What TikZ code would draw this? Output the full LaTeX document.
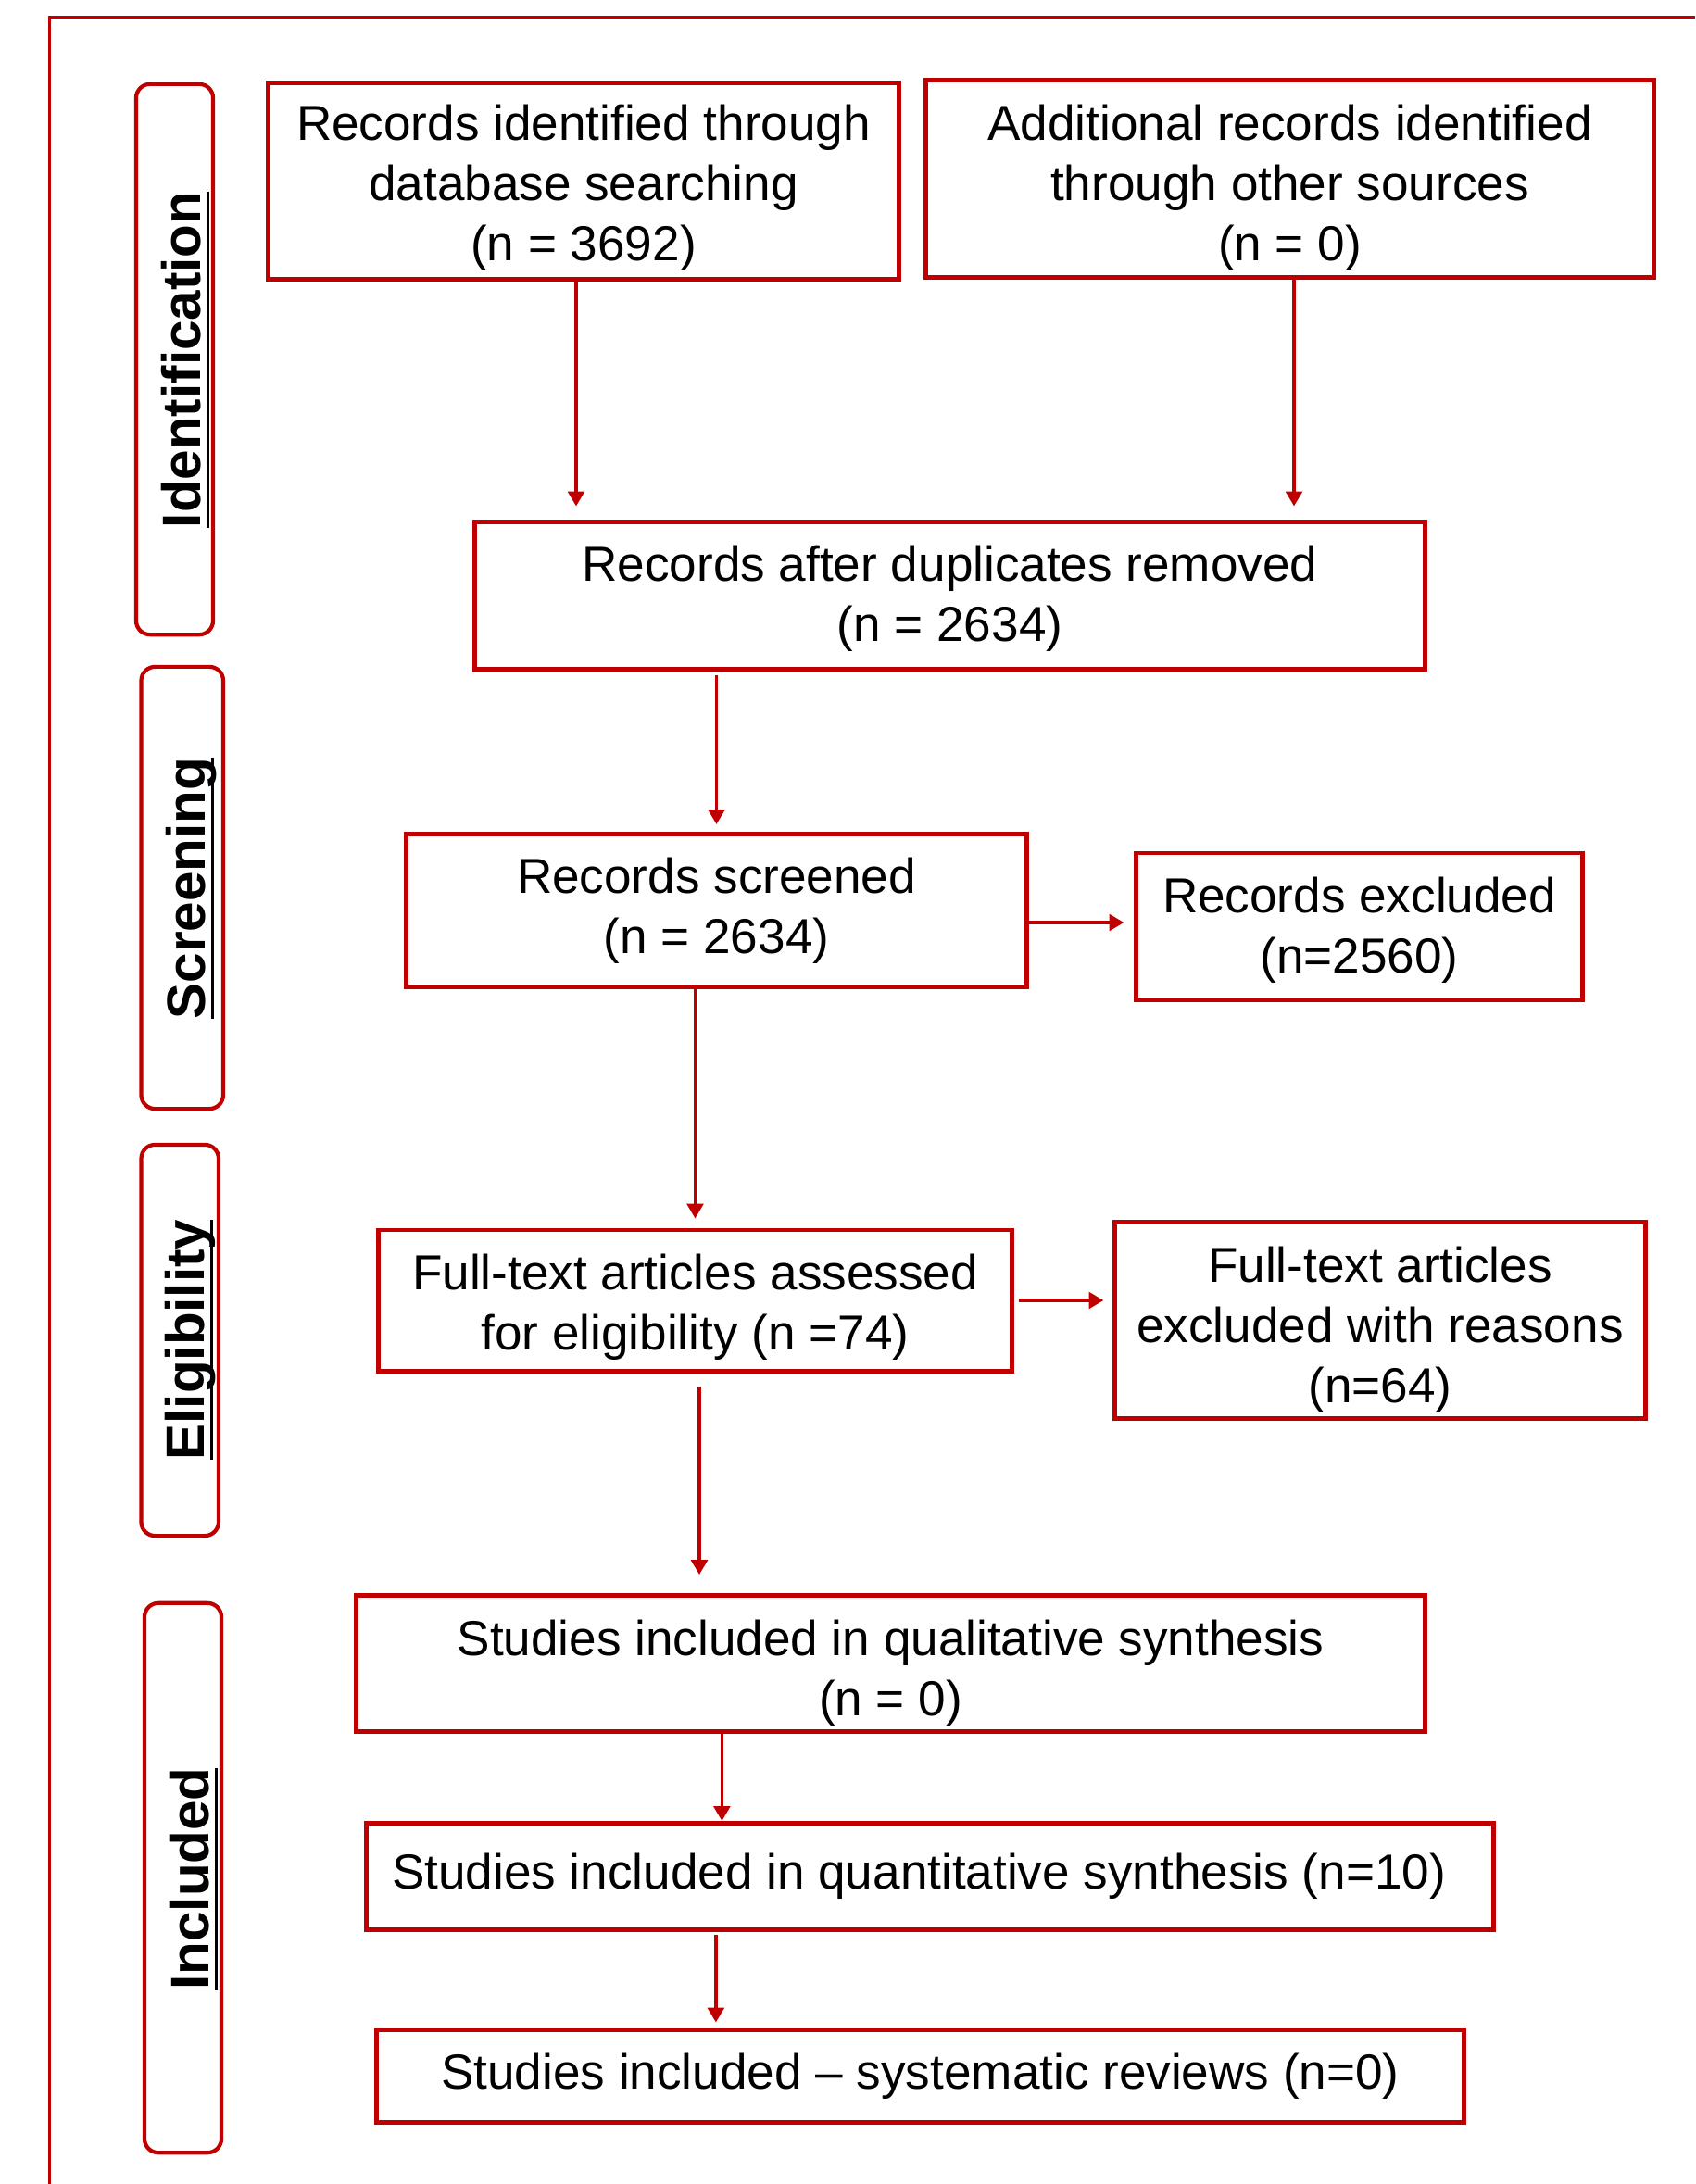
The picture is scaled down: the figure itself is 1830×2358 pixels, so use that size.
\documentclass[tikz,border=0pt]{standalone}
\usepackage{fontspec}
\setmainfont{Liberation Sans}
\usetikzlibrary{arrows.meta}
\definecolor{prismared}{HTML}{C00000}
% underline at a fixed depth, so descenders cross it
\newcommand{\phaseul}[1]{\setbox0\hbox{#1}\rlap{\vrule height -1.85pt depth 2.95pt width \wd0}\box0}
% taller first line pushes the text block down a little
\newcommand{\topstrut}[1]{\rule{0pt}{#1}}

\begin{document}
\begin{tikzpicture}[
        x=0.01cm, y=-0.01cm,
        box/.style={draw=prismared, line width=1.4pt, align=center, inner sep=0pt,
            font=\fontsize{15.1}{18.5}\selectfont},
        phase/.style={draw=prismared, line width=1.2pt, rounded corners=0.15cm},
        phaselabel/.style={rotate=90, anchor=base, inner sep=0pt,
            font=\fontsize{16.6}{19}\selectfont\bfseries},
        arrow/.style={-{Triangle[length=4.5pt,width=5pt]}, draw=prismared, line width=1pt}
    ]
        \useasboundingbox (0,0) rectangle (1830,2358);
        \draw[prismared, line width=0.7pt] (53.5,2358) |- (1830,18.5);

        % Phases
        \node[phase, minimum width=0.83cm, minimum height=5.94cm] (idbox) at (188.5,388) {};
        \node[phase, minimum width=0.885cm, minimum height=4.77cm] (scrbox) at (196.75,958.5) {};
        \node[phase, minimum width=0.835cm, minimum height=4.22cm] (elbox) at (194.25,1447) {};
        \node[phase, minimum width=0.83cm, minimum height=5.93cm] (incbox) at (197.5,2027.5) {};

        \node[phaselabel] (idlabel) at (216,388.5) {\phaseul{Identification}};
        \node[phaselabel] (scrlabel) at (221,959) {\phaseul{Screening}};
        \node[phaselabel] (ellabel) at (220,1446.5) {\phaseul{Eligibility}};
        \node[phaselabel] (inclabel) at (225,2028.5) {\phaseul{Included}};

        % Identification
        \node[box, minimum width=6.8cm, minimum height=2.11cm] (recdb) at (630,195.5)
            {\topstrut{15.2pt}Records identified through\\database searching\\(n = 3692)};
        \node[box, minimum width=7.85cm, minimum height=2.12cm] (recother) at (1392.5,193)
            {\topstrut{16.6pt}Additional records identified\\through other sources\\(n = 0)};
        \node[box, minimum width=10.25cm, minimum height=1.58cm] (dedup) at (1025.5,643)
            {\topstrut{12.7pt}Records after duplicates removed\\(n = 2634)};

        % Screening
        \node[box, minimum width=6.69cm, minimum height=1.65cm] (screened) at (773.5,983)
            {Records screened\\(n = 2634)};
        \node[box, minimum width=4.81cm, minimum height=1.58cm] (excluded) at (1467.5,1000)
            {\topstrut{13.6pt}Records excluded\\(n=2560)};

        % Eligibility
        \node[box, minimum width=6.83cm, minimum height=1.52cm] (assessed) at (750.5,1404)
            {\topstrut{15.2pt}Full-text articles assessed\\for eligibility (n =74)};
        \node[box, minimum width=5.72cm, minimum height=2.11cm] (ftexcl) at (1490,1425.5)
            {\topstrut{17pt}Full-text articles\\excluded with reasons\\(n=64)};

        % Included
        \node[box, minimum width=11.53cm, minimum height=1.47cm] (qual) at (961.5,1796)
            {\topstrut{16.6pt}Studies included in qualitative synthesis\\(n = 0)};
        \node[box, minimum width=12.16cm, minimum height=1.15cm] (quant) at (1004,2026)
            {Studies included in quantitative synthesis (n=10)\hspace*{6.8pt}};
        \node[box, minimum width=11.73cm, minimum height=0.99cm] (sysrev) at (993.5,2241.5)
            {Studies included -- systematic reviews (n=0)};

        % Arrows
        \draw[arrow, shorten >=0.15cm] ([xshift=-0.08cm]recdb.south) -- ([xshift=-0.08cm]recdb.south |- dedup.north);
        \draw[arrow, shorten >=0.15cm] ([xshift=0.045cm]recother.south) -- ([xshift=0.045cm]recother.south |- dedup.north);
        \draw[arrow, shorten <=0.04cm, shorten >=0.08cm] (dedup.south -| screened.north) -- (screened.north);
        \draw[arrow, shorten >=0.11cm] ([yshift=-0.13cm]screened.east) -- ([yshift=-0.13cm]screened.east -| excluded.west);
        \draw[arrow, shorten >=0.1cm] (screened.south -| assessed.north) -- (assessed.north);
        \draw[arrow, shorten <=0.05cm, shorten >=0.1cm] (assessed.east) -- (assessed.east -| ftexcl.west);
        \draw[arrow, shorten <=0.14cm, shorten >=0.2cm] ([xshift=0.045cm]assessed.south) -- ([xshift=0.045cm]assessed.south |- qual.north);
        \draw[arrow] ([xshift=-1.82cm]qual.south) -- ([xshift=-1.82cm]qual.south |- quant.north);
        \draw[arrow, shorten <=0.03cm, shorten >=0.06cm] ([xshift=-2.31cm]quant.south) -- ([xshift=-2.31cm]quant.south |- sysrev.north);
    \end{tikzpicture}
\end{document}
